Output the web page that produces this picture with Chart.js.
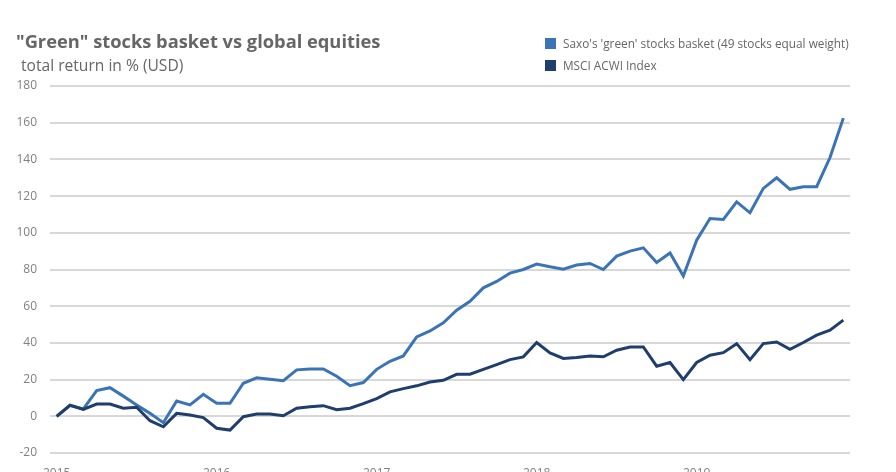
<!DOCTYPE html>
<html>
<head>
<meta charset="utf-8">
<script src="https://cdn.jsdelivr.net/npm/chart.js@4"></script>
<style>
    html, body { margin: 0; padding: 0; background: #ffffff; overflow: hidden; width: 896px; height: 472px; }
    #wrap { position: relative; width: 896px; height: 472px; overflow: hidden; font-family: "Open Sans", sans-serif; }
    #title { position: absolute; left: 16px; top: 32px; font-size: 18.3px; line-height: 18px; font-weight: bold; color: #666666; white-space: nowrap; }
    #subtitle { position: absolute; left: 21px; top: 58px; font-size: 15.6px; line-height: 15px; color: #666666; white-space: nowrap; }
    #legend { position: absolute; left: 545px; top: 37px; font-size: 11.8px; color: #666666; }
    #legend .item { height: 22px; line-height: 13px; white-space: nowrap; }
    #legend .box { display: inline-block; width: 11px; height: 11px; margin-right: 7px; vertical-align: -1px; }
    canvas { position: absolute; left: 0; top: 0; }
</style>
</head>
<body>
<div id="wrap">
    <canvas id="chart" width="896" height="500"></canvas>
    <div id="title">"Green" stocks basket vs global equities</div>
    <div id="subtitle">total return in % (USD)</div>
    <div id="legend"></div>
</div>
<script>
// Chart data (monthly, Jan 2015 - Dec 2019)
const years = [ '2015', '2016', '2017', '2018', '2019' ];
const seriesNames = [ "Saxo's 'green' stocks basket (49 stocks equal weight)", 'MSCI ACWI Index' ];
const seriesColors = [ '#3a74b7', '#1f3e6d' ];

const greenBasket = [
    0, 6, 4, 14, 15.6, 11, 6.2, 1.6, -3.5, 8.3, 6.2, 12,
    7.1, 7.1, 18, 21, 20.2, 19.4, 25.3, 25.8, 25.8, 21.8, 16.7, 18.4,
    25.6, 30, 32.9, 43.3, 46.5, 50.9, 57.8, 62.7, 70, 73.5, 78, 80,
    83, 81.5, 80.2, 82.4, 83.3, 80, 87.3, 90, 91.8, 83.8, 89, 76.4,
    96, 107.8, 107.3, 116.9, 110.9, 124.2, 130, 123.7, 125.1, 125.1, 141, 162.5
];
const msciAcwi = [
    0, 6, 3.8, 6.7, 6.7, 4.4, 4.9, -2.4, -5.7, 1.6, 0.7, -0.7,
    -6.5, -7.5, -0.2, 1.3, 1.3, 0.3, 4.4, 5.2, 5.8, 3.6, 4.4, 6.9,
    9.6, 13.3, 15.1, 16.6, 18.7, 19.6, 22.9, 22.9, 25.6, 28.2, 30.9, 32.4,
    40.2, 34.5, 31.5, 32, 32.9, 32.4, 36, 37.8, 37.8, 27.3, 29.3, 20,
    29.3, 33.3, 34.7, 39.6, 30.9, 39.6, 40.5, 36.5, 40.2, 44.2, 46.9, 52.4
];

const yTicks = { min: -20, max: 180, step: 20 };

// Month categories built from the years
const months = [];
years.forEach( y =>
{
    for ( let m = 1; m <= 12; m++ )
    {
        months.push( y + '-' + String( m ).padStart( 2, '0' ) );
    }
} );

// HTML legend
const legendEl = document.getElementById( 'legend' );
seriesNames.forEach( ( name, i ) =>
{
    const item = document.createElement( 'div' );
    item.className = 'item';
    const box = document.createElement( 'span' );
    box.className = 'box';
    box.style.background = seriesColors[ i ];
    item.appendChild( box );
    item.appendChild( document.createTextNode( name ) );
    legendEl.appendChild( item );
} );

const tickFont = { family: '"Open Sans", sans-serif', size: 12 };

new Chart( document.getElementById( 'chart' ), {
    type: 'line',
    data: {
        labels: months,
        datasets: [
            {
                label: seriesNames[ 0 ],
                data: greenBasket,
                borderColor: seriesColors[ 0 ],
                backgroundColor: seriesColors[ 0 ],
                borderWidth: 3,
                pointRadius: 0,
                tension: 0,
                order: 1
            },
            {
                label: seriesNames[ 1 ],
                data: msciAcwi,
                borderColor: seriesColors[ 1 ],
                backgroundColor: seriesColors[ 1 ],
                borderWidth: 3,
                pointRadius: 0,
                tension: 0,
                order: 0
            }
        ]
    },
    options: {
        responsive: false,
        animation: false,
        layout: { padding: { top: 86, right: 46, left: 0, bottom: 0 } },
        plugins: {
            legend: { display: false },
            tooltip: { enabled: false }
        },
        scales: {
            x: {
                type: 'category',
                offset: true,
                grid: { display: false, drawTicks: false },
                border: { display: false },
                ticks: {
                    autoSkip: false,
                    maxRotation: 0,
                    padding: 13,
                    color: '#808080',
                    font: tickFont,
                    callback: ( val, i ) => i % 12 === 0 ? years[ i / 12 ] : ''
                },
                afterFit: ( scale ) => { scale.height = 47; }
            },
            y: {
                min: yTicks.min,
                max: yTicks.max,
                grid: { color: '#d8d8d8', lineWidth: 2, drawTicks: false },
                border: { display: false },
                ticks: {
                    stepSize: yTicks.step,
                    padding: 13,
                    color: '#808080',
                    font: tickFont
                },
                afterFit: ( scale ) => { scale.width = 50; }
            }
        }
    }
} );
</script>
</body>
</html>
